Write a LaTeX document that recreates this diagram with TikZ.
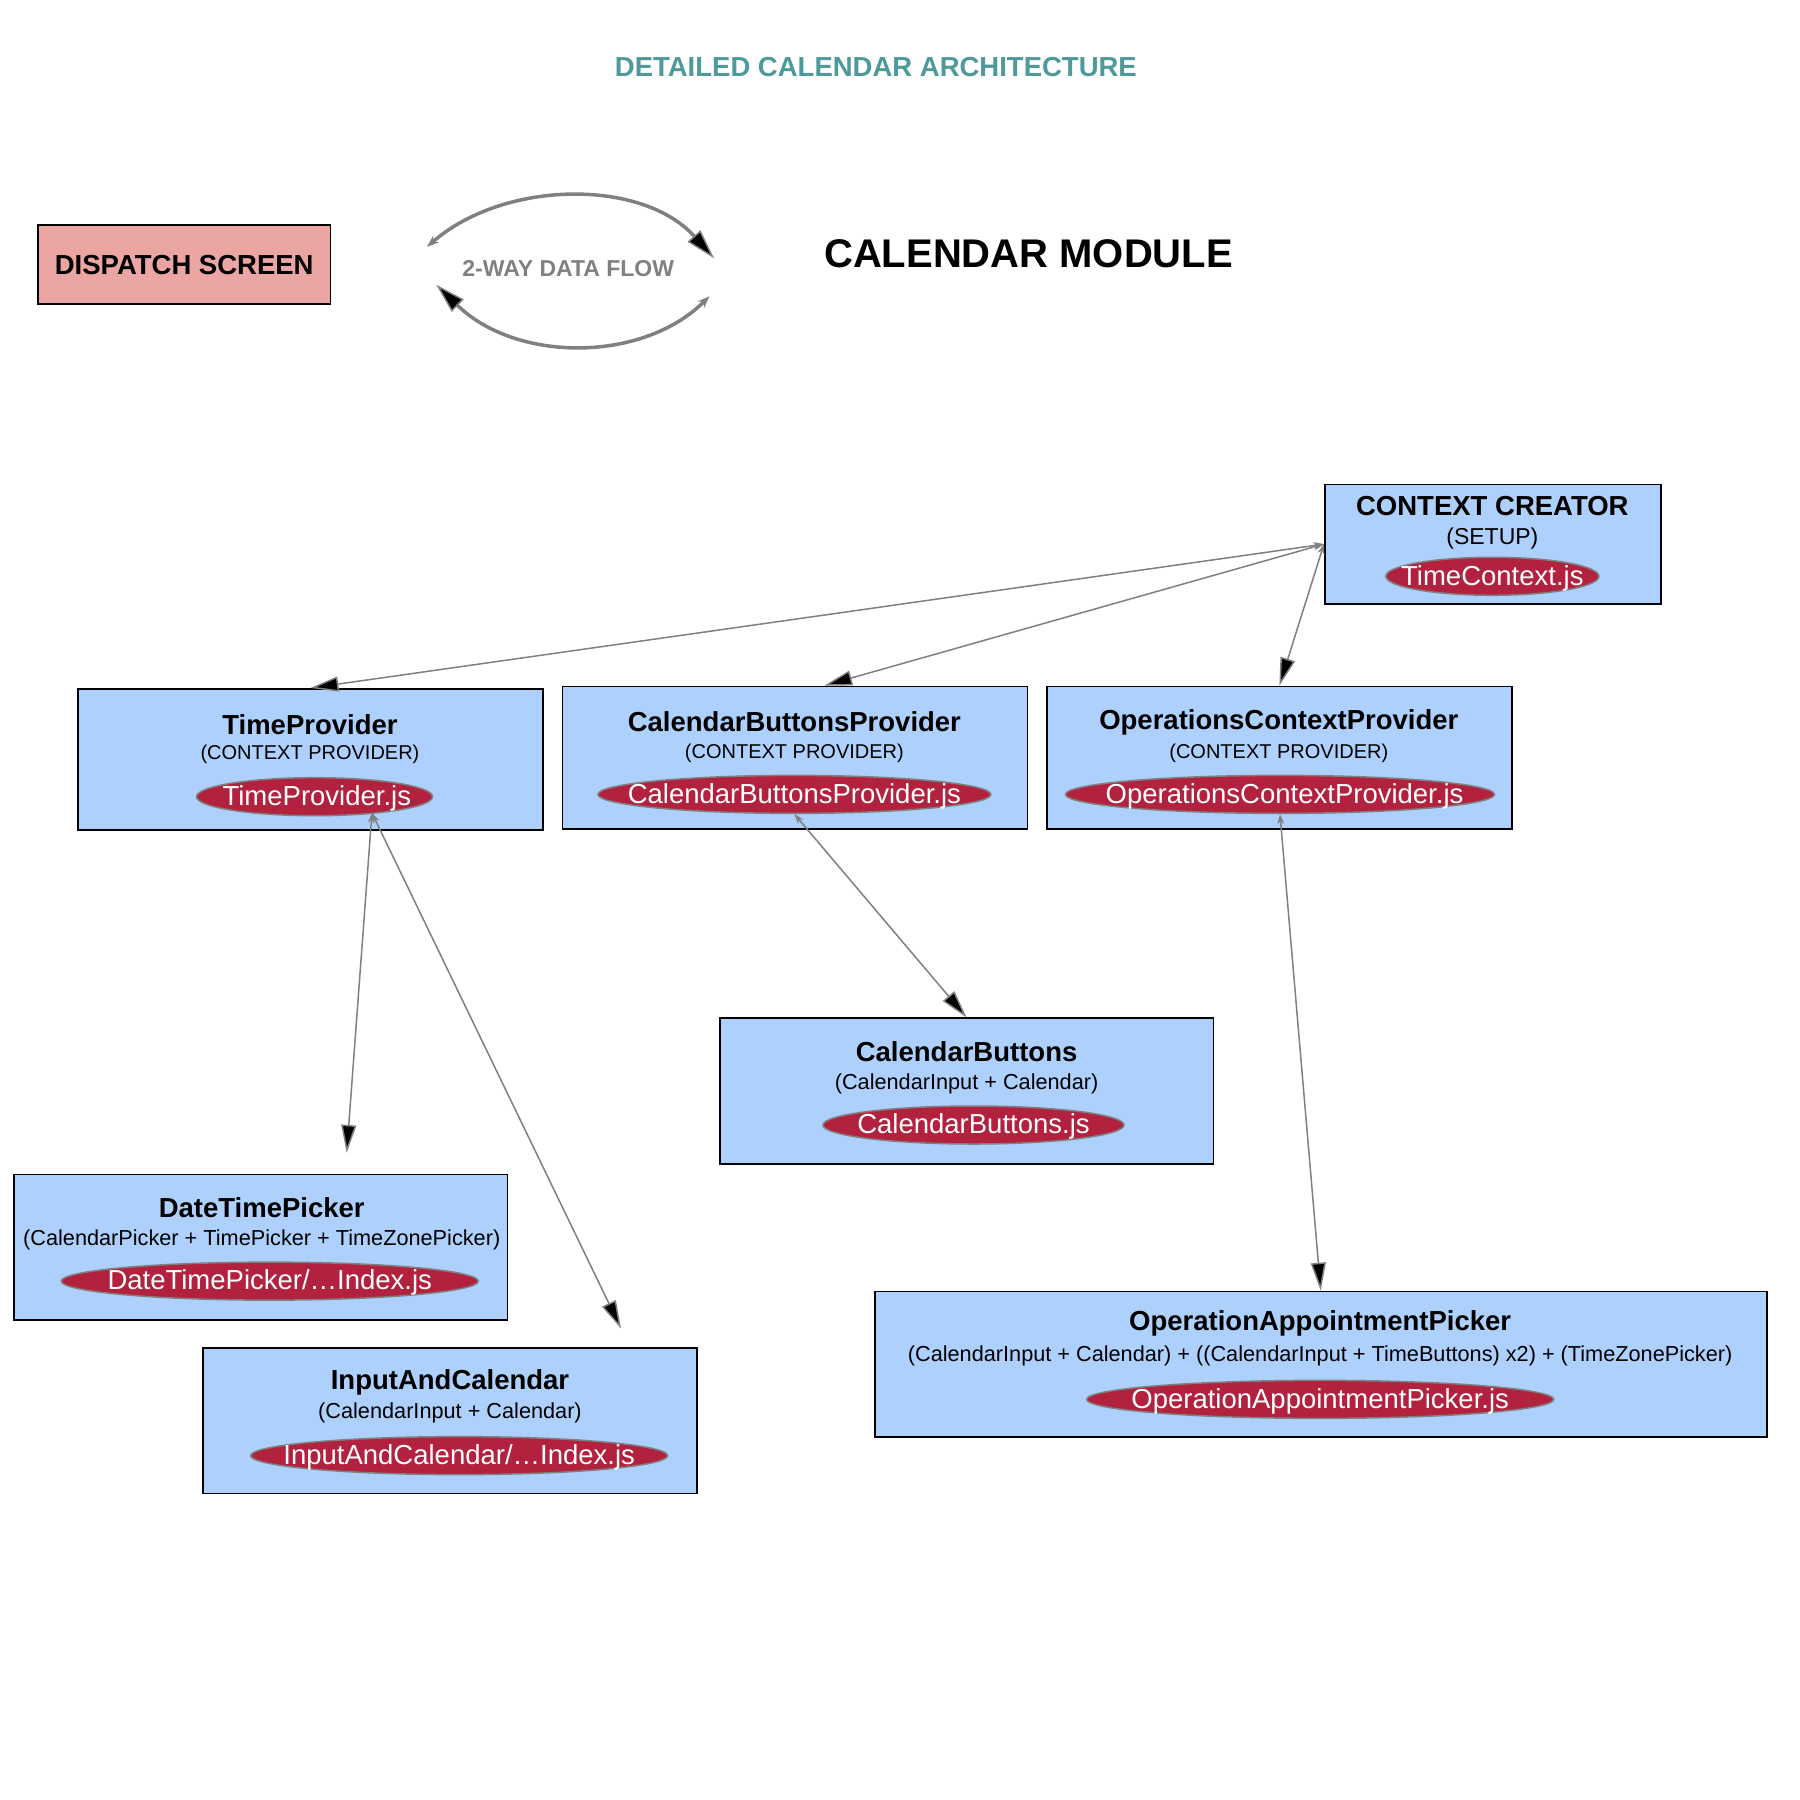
\documentclass[tikz,border=0pt]{standalone}
\usepackage{fontspec}
\setmainfont{Liberation Sans}
\usetikzlibrary{arrows.meta,shapes.geometric,calc}
\definecolor{boxblue}{RGB}{173,208,252}
\definecolor{jsred}{RGB}{178,34,62}
\definecolor{disppink}{RGB}{235,165,163}
\definecolor{titleteal}{RGB}{78,154,154}
\definecolor{arrgray}{RGB}{128,128,128}
\begin{document}
\begin{tikzpicture}[x=1.148pt,y=-1.148pt,
  comp/.style={draw=black,line width=1.6pt,fill=boxblue,minimum width=#1,minimum height=145.8pt,inner sep=0pt},
  ttl/.style={font=\fontsize{27.5}{30}\selectfont\bfseries,inner sep=0pt},
  subtxt/.style={font=\fontsize{20}{24}\selectfont,inner sep=0pt},
  subtxtb/.style={font=\fontsize{21.7}{25}\selectfont,inner sep=0pt},
  jsfile/.style={ellipse,draw=arrgray,line width=1.5pt,fill=jsred,minimum height=38pt,minimum width=#1,inner sep=0pt},
  jstext/.style={text=white,font=\fontsize{27.5}{30}\selectfont,inner sep=0pt},
  conn/.style={draw=arrgray,line width=1.5pt,{Stealth[length=10pt,width=7pt]}-{Triangle[length=28pt,width=15pt,fill=black]}},
  flowarr/.style={draw=arrgray,line width=3.5pt},
]
\useasboundingbox (0,0) rectangle (1568,1568);
\fill[white] (0,0) rectangle (1568,1568);

\node[ttl,text=titleteal] (title) at (763,58) {DETAILED CALENDAR ARCHITECTURE};
\node[draw=black,line width=1.6pt,fill=disppink,minimum width=292.7pt,minimum height=79.2pt,inner sep=0pt,font=\fontsize{27.5}{30}\selectfont\bfseries] (disp) at (160.5,230.5) {DISPATCH SCREEN};
\node[font=\fontsize{23}{26}\selectfont\bfseries,text=arrgray,inner sep=0pt] (flow) at (495,234) {2-WAY DATA FLOW};
\node[font=\fontsize{40}{44}\selectfont\bfseries,inner sep=0pt] (mod) at (896,221) {CALENDAR MODULE};

\coordinate (fa1) at (372,215);
\coordinate (fa2) at (622,225);
\coordinate (fb1) at (380,248);
\coordinate (fb2) at (618,258);
\draw[flowarr,{Stealth[length=12pt,width=9pt]}-{Triangle[length=30pt,width=17pt,fill=black,line width=1.5pt]}] (fa1) .. controls (440,156) and (560,156) .. (fa2);
\draw[flowarr,{Triangle[length=30pt,width=17pt,fill=black,line width=1.5pt]}-{Stealth[length=12pt,width=9pt]}] (fb1) .. controls (450,316) and (560,316) .. (fb2);

% context creator
\node[comp=336.4pt,minimum height=119.4pt] (cc) at (1300.5,474) {};
\node[ttl] (cct) at (1300,441) {CONTEXT CREATOR};
\node[subtxtb,font=\fontsize{23}{26}\selectfont] (ccs) at (1300,469) {(SETUP)};
\node[jsfile=213pt] (cce) at (1300,502) {};
\node[jstext] (ccet) at ($(cce)+(0,1.5)$) {TimeContext.js};

% TimeProvider
\node[comp=465pt,minimum height=141.2pt] (tp) at (270.5,661.5) {};
\node[ttl] (tpt) at (270,631) {TimeProvider};
\node[subtxt] (tps) at (270,657) {(CONTEXT PROVIDER)};
\node[jsfile=236pt] (tpe) at (274,694) {};
\node[jstext] (tpet) at ($(tpe)+(2,1.5)$) {TimeProvider.js};

% CalendarButtonsProvider
\node[comp=465pt,minimum height=142.4pt] (cbp) at (692.5,660) {};
\node[ttl] (cbpt) at (692,629) {CalendarButtonsProvider};
\node[subtxt] (cbps) at (692,656) {(CONTEXT PROVIDER)};
\node[jsfile=393pt] (cbpe) at (692,692) {};
\node[jstext] (cbpet) at ($(cbpe)+(0,1.5)$) {CalendarButtonsProvider.js};

% OperationsContextProvider
\node[comp=465pt,minimum height=142.4pt] (ocp) at (1114.5,660) {};
\node[ttl] (ocpt) at (1114,629) {OperationsContextProvider};
\node[subtxt] (ocps) at (1114,656) {(CONTEXT PROVIDER)};
\node[jsfile=429pt] (ocpe) at (1115,692) {};
\node[jstext] (ocpet) at ($(ocpe)+(4,1.5)$) {OperationsContextProvider.js};

% CalendarButtons
\node[comp=493.6pt] (cb) at (842,950.5) {};
\node[ttl] (cbt) at (842,916) {CalendarButtons};
\node[subtxtb] (cbs) at (842,944) {(CalendarInput + Calendar)};
\node[jsfile=301pt] (cbe) at (848,980) {};
\node[jstext] (cbet) at ($(cbe)+(0,1.5)$) {CalendarButtons.js};

% DateTimePicker
\node[comp=493.6pt] (dtp) at (227,1086.5) {};
\node[ttl] (dtpt) at (228,1052) {DateTimePicker};
\node[subtxtb] (dtps) at (228,1080) {(CalendarPicker + TimePicker + TimeZonePicker)};
\node[jsfile=417pt] (dtpe) at (235,1116) {};
\node[jstext] (dtpet) at ($(dtpe)+(0,1.5)$) {DateTimePicker/…Index.js};

% InputAndCalendar
\node[comp=493.6pt] (iac) at (392,1237.5) {};
\node[ttl] (iact) at (392,1204) {InputAndCalendar};
\node[subtxtb] (iacs) at (392,1231) {(CalendarInput + Calendar)};
\node[jsfile=417pt] (iace) at (400,1268) {};
\node[jstext] (iacet) at ($(iace)+(0,1.5)$) {InputAndCalendar/…Index.js};

% OperationAppointmentPicker
\node[comp=892pt] (oap) at (1150.5,1188.5) {};
\node[ttl] (oapt) at (1150,1153) {OperationAppointmentPicker};
\node[subtxtb] (oaps) at (1150,1181) {(CalendarInput + Calendar) + ((CalendarInput + TimeButtons) x2) + (TimeZonePicker)};
\node[jsfile=467pt] (oape) at (1150,1219) {};
\node[jstext] (oapet) at ($(oape)+(0,1.5)$) {OperationAppointmentPicker.js};

% connectors
\draw[conn] (cc.west) -- (tp.north);
\draw[conn] (cc.west) -- ($(cbp.north)+(25.5,0)$);
\draw[conn] (cc.west) -- (ocp.north);
\draw[conn] ($(tpe.south)+(50,-3)$) -- ($(dtp.north)+(75,-18)$);
\draw[conn] ($(tpe.south)+(50,-3)$) -- ($(iac.north)+(149,-16)$);
\draw[conn] (cbpe.south) -- (cb.north);
\draw[conn] (ocpe.south) -- (oap.north);
\end{tikzpicture}
\end{document}
